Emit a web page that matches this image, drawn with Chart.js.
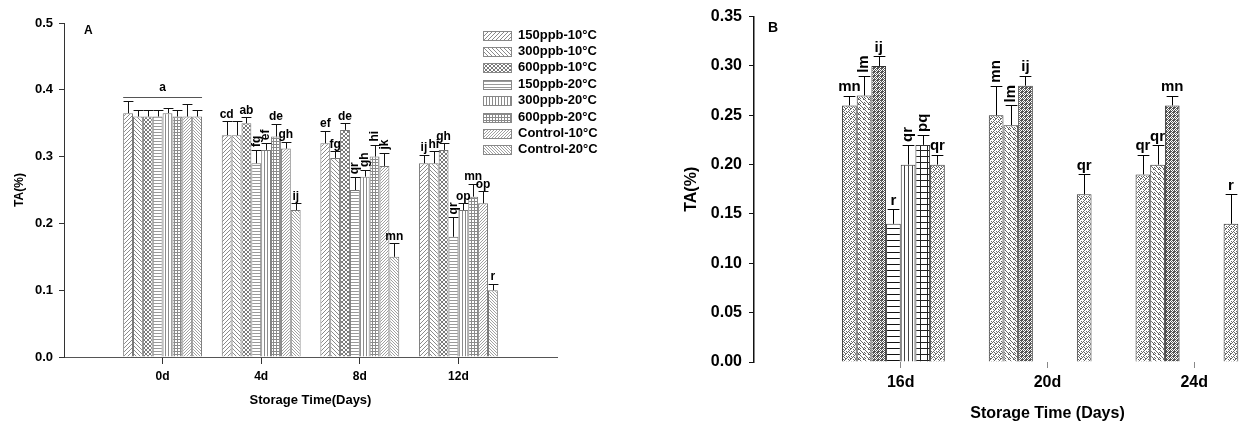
<!DOCTYPE html>
<html>
<head>
<meta charset="utf-8">
<script src="https://cdn.jsdelivr.net/npm/chart.js@4.4.1/dist/chart.umd.min.js"></script>
<style>
    html, body { margin: 0; padding: 0; background: #fff; overflow: hidden; }
    #wrap { position: relative; width: 1248px; height: 424px; overflow: hidden; }
    #chartA { position: absolute; left: 0; top: 0; }
    #chartB { position: absolute; left: 640px; top: 0; }
    .tag { position: absolute; font-family: "Liberation Sans", Arial, sans-serif; font-weight: bold; color: #000; }
</style>
</head>
<body>
<div id="wrap">
    <canvas id="chartA" width="620" height="424"></canvas>
    <canvas id="chartB" width="706" height="424"></canvas>
    <div class="tag" style="left:84px;top:23px;font-size:12px;">A</div>
    <div class="tag" style="left:768px;top:19px;font-size:14px;">B</div>
</div>
<script>
// --- dane ---
const seriesNames = ['150ppb-10°C', '300ppb-10°C', '600ppb-10°C', '150ppb-20°C',
                     '300ppb-20°C', '600ppb-20°C', 'Control-10°C', 'Control-20°C'];

// Panel A: 0d, 4d, 8d, 12d
const daysA = ['0d', '4d', '8d', '12d'];
const taA = [
    [0.365, 0.332, 0.320, 0.290],
    [0.360, 0.332, 0.298, 0.290],
    [0.360, 0.350, 0.340, 0.310],
    [0.360, 0.290, 0.250, 0.180],
    [0.365, 0.310, 0.270, 0.220],
    [0.360, 0.330, 0.300, 0.240],
    [0.360, 0.312, 0.286, 0.230],
    [0.360, 0.220, 0.150, 0.100]
];
const errA = [
    [0.018, 0.021, 0.019, 0.013],
    [0.010, 0.021, 0.010, 0.018],
    [0.010, 0.009, 0.010, 0.010],
    [0.010, 0.020, 0.019, 0.029],
    [0.008, 0.010, 0.010, 0.010],
    [0.010, 0.019, 0.018, 0.019],
    [0.019, 0.010, 0.020, 0.018],
    [0.010, 0.010, 0.020, 0.010]
];
const lettersA = [
    [null, 'cd', 'ef', 'ij'],
    [null, null, 'fg', 'hi'],
    [null, 'ab', 'de', 'gh'],
    [null, 'fg', 'qr', 'qr'],
    [null, 'ef', 'gh', 'op'],
    [null, 'de', 'hi', 'mn'],
    [null, 'gh', 'jk', 'op'],
    [null, 'ij', 'mn', 'r']
];
const groupLettersA = ['a', null, null, null];
const rotatedA = [[3, 1], [4, 1], [3, 2], [4, 2], [5, 2], [6, 2], [3, 3]];

// Panel B: 16d, 20d, 24d
const daysB = ['16d', '20d', '24d'];
const taB = [
    [0.26, 0.25, 0.19],
    [0.27, 0.24, 0.20],
    [0.30, 0.28, 0.26],
    [0.14, null, null],
    [0.20, null, null],
    [0.22, null, null],
    [0.20, 0.17, 0.14],
    [null, null, null]
];
const errB = [
    [0.01, 0.03, 0.02],
    [0.02, 0.02, 0.02],
    [0.01, 0.01, 0.01],
    [0.015, null, null],
    [0.02, null, null],
    [0.01, null, null],
    [0.01, 0.02, 0.03],
    [null, null, null]
];
const lettersB = [
    ['mn', 'mn', 'qr'],
    ['lm', 'lm', 'qr'],
    ['ij', 'ij', 'mn'],
    ['r', null, null],
    ['qr', null, null],
    ['pq', null, null],
    ['qr', 'qr', 'r'],
    [null, null, null]
];
const rotatedB = [[1, 0], [4, 0], [5, 0], [0, 1], [1, 1]];

const FONT = '"Liberation Sans", Arial, sans-serif';

// --- wzory kreskowania ---
function hatch(kind, w, h, color, extraDots) {
    const c = document.createElement('canvas');
    c.width = w; c.height = h;
    const g = c.getContext('2d');
    g.fillStyle = '#fff';
    g.fillRect(0, 0, w, h);
    g.strokeStyle = color;
    g.fillStyle = color;
    g.lineWidth = 1;
    g.beginPath();
    if (kind === 'fwd' || kind === 'cross') {
        for (const k of [-w, 0, w]) { g.moveTo(k, h); g.lineTo(k + w, 0); }
    }
    if (kind === 'back' || kind === 'cross') {
        for (const k of [-w, 0, w]) { g.moveTo(k, 0); g.lineTo(k + w, h); }
    }
    g.stroke();
    if (kind === 'horiz' || kind === 'grid') g.fillRect(0, 0, w, 1);
    if (kind === 'vert' || kind === 'grid') g.fillRect(0, 0, 1, h);
    if (kind === 'dots') {
        for (let y = 0; y < h; y++) {
            for (let x = (y % 2); x < w; x += 2) g.fillRect(x, y, 1, 1);
        }
    }
    if (extraDots) {
        extraDots.forEach(p => g.fillRect(p[0], p[1], 1, 1));
    }
    return g.createPattern(c, 'repeat');
}

const patternsA = [
    hatch('fwd', 4, 4, '#8a8a8a'),
    hatch('back', 4, 4, '#8a8a8a'),
    hatch('cross', 4, 4, '#7a7a7a'),
    hatch('horiz', 3, 3, '#9a9a9a'),
    hatch('vert', 3, 3, '#8a8a8a'),
    hatch('grid', 3, 3, '#8a8a8a'),
    hatch('fwd', 3, 3, '#a0a0a0'),
    hatch('back', 3, 3, '#a0a0a0')
];
const speckle = [[1, 1], [3, 4], [4, 2], [0, 3]];
const patternsB = [
    hatch('fwd', 5, 5, '#666', speckle),
    hatch('back', 5, 5, '#666', speckle),
    hatch('dots', 4, 4, '#555', [[1, 0], [2, 3]]),
    hatch('horiz', 6, 6, '#111'),
    hatch('vert', 4, 6, '#444'),
    hatch('grid', 7, 6, '#222'),
    hatch('fwd', 5, 5, '#666', speckle),
    hatch('back', 5, 5, '#666', speckle)
];

// --- wtyczki ---
function makeErrorBars(errors, capRatio, color) {
    return {
        id: 'errorBars',
        afterDatasetsDraw(chart) {
            const ctx = chart.ctx;
            const yScale = chart.scales.y;
            ctx.save();
            ctx.strokeStyle = color;
            ctx.lineWidth = 1;
            chart.data.datasets.forEach((ds, i) => {
                const meta = chart.getDatasetMeta(i);
                meta.data.forEach((bar, j) => {
                    const v = ds.data[j].y;
                    const e = errors[i][j];
                    if (v == null || !e) return;
                    const top = Math.round(yScale.getPixelForValue(v + e)) + 0.5;
                    const base = yScale.getPixelForValue(v);
                    const x = Math.round(bar.x) + 0.5;
                    const half = bar.width * capRatio / 2;
                    ctx.beginPath();
                    ctx.moveTo(x, base);
                    ctx.lineTo(x, top);
                    ctx.moveTo(x - half, top);
                    ctx.lineTo(x + half, top);
                    ctx.stroke();
                });
            });
            ctx.restore();
        }
    };
}

function makeLetters(letters, errors, rotated, groups, font) {
    return {
        id: 'letters',
        afterDatasetsDraw(chart) {
            const ctx = chart.ctx;
            const yScale = chart.scales.y;
            const topOf = (i, j) => yScale.getPixelForValue(chart.data.datasets[i].data[j].y + (errors[i][j] || 0));
            ctx.save();
            ctx.fillStyle = '#000';
            ctx.font = font;
            letters.forEach((row, i) => {
                const meta = chart.getDatasetMeta(i);
                row.forEach((txt, j) => {
                    if (!txt) return;
                    const bar = meta.data[j];
                    const top = topOf(i, j);
                    const vertical = rotated.some(p => p[0] === i && p[1] === j);
                    if (vertical) {
                        ctx.save();
                        ctx.translate(bar.x, top - 3);
                        ctx.rotate(-Math.PI / 2);
                        ctx.textAlign = 'left';
                        ctx.textBaseline = 'middle';
                        ctx.fillText(txt, 0, 0);
                        ctx.restore();
                    } else {
                        ctx.textAlign = 'center';
                        ctx.textBaseline = 'bottom';
                        ctx.fillText(txt, bar.x, top - 1);
                    }
                });
            });
            // litera wspólna dla całej grupy
            groups.forEach((txt, j) => {
                if (!txt) return;
                let left = Infinity, right = -Infinity, top = Infinity;
                chart.data.datasets.forEach((ds, i) => {
                    const bar = chart.getDatasetMeta(i).data[j];
                    left = Math.min(left, bar.x - bar.width / 2);
                    right = Math.max(right, bar.x + bar.width / 2);
                    top = Math.min(top, topOf(i, j));
                });
                const ly = Math.round(top - 4) + 0.5;
                ctx.strokeStyle = '#555';
                ctx.lineWidth = 1;
                ctx.beginPath();
                ctx.moveTo(left, ly);
                ctx.lineTo(right, ly);
                ctx.stroke();
                ctx.textAlign = 'center';
                ctx.textBaseline = 'bottom';
                ctx.fillText(txt, (left + right) / 2, ly - 4);
            });
            ctx.restore();
        }
    };
}

function makeBoxLegend(x, y, w, h, step, textX, font) {
    return {
        id: 'boxLegend',
        afterDraw(chart) {
            const ctx = chart.ctx;
            ctx.save();
            chart.data.datasets.forEach((ds, i) => {
                const cy = y + i * step;
                const top = Math.round(cy - h / 2);
                ctx.fillStyle = ds.backgroundColor;
                ctx.fillRect(x, top, w, h);
                ctx.strokeStyle = '#888';
                ctx.lineWidth = 1;
                ctx.strokeRect(x + 0.5, top + 0.5, w, h);
                ctx.fillStyle = '#000';
                ctx.font = font;
                ctx.textAlign = 'left';
                ctx.textBaseline = 'middle';
                ctx.fillText(ds.label, textX, cy);
            });
            ctx.restore();
        }
    };
}

function buildDatasets(values, patterns, border) {
    return seriesNames.map((name, i) => ({
        label: name,
        data: values[i].map((v, j) => ({ x: j + 1, y: v })),
        backgroundColor: patterns[i],
        borderColor: border,
        borderWidth: 1,
        categoryPercentage: 0.8,
        barPercentage: 1.0
    }));
}

// kreski tylko pod nazwanymi dniami
const tickShown = (days, color) => c =>
    (c.tick && c.tick.value >= 1 && c.tick.value <= days.length) ? color : 'rgba(0,0,0,0)';

// --- Panel A ---
new Chart(document.getElementById('chartA'), {
    type: 'bar',
    data: { datasets: buildDatasets(taA, patternsA, '#777') },
    options: {
        responsive: false,
        animation: false,
        devicePixelRatio: 1,
        layout: { padding: { left: 0, right: 63, top: 23, bottom: 0 } },
        plugins: { legend: { display: false }, tooltip: { enabled: false } },
        scales: {
            x: {
                type: 'linear', min: 0, max: 5, offset: false,
                grid: { offset: false, drawOnChartArea: false, tickLength: 7, tickColor: tickShown(daysA, '#333') },
                border: { color: '#555', width: 1 },
                ticks: {
                    stepSize: 1, includeBounds: false, autoSkip: false, maxRotation: 0, padding: 5,
                    color: '#000', font: { family: FONT, size: 12, weight: 'bold' },
                    callback: v => daysA[v - 1] || ''
                },
                title: {
                    display: true, text: 'Storage Time(Days)', color: '#000',
                    font: { family: FONT, size: 13, weight: 'bold' }, padding: { top: 0, bottom: 16 }
                },
                afterFit: s => { s.height = 67; }
            },
            y: {
                min: 0, max: 0.5,
                grid: { drawOnChartArea: false, tickLength: 5, tickColor: '#333' },
                border: { color: '#333', width: 1 },
                ticks: {
                    stepSize: 0.1, padding: 6, color: '#000',
                    font: { family: FONT, size: 13, weight: 'bold' },
                    callback: v => v.toFixed(1)
                },
                title: {
                    display: true, text: 'TA(%)', color: '#000',
                    font: { family: FONT, size: 12, weight: 'bold' }, padding: { top: 12, bottom: 0 }
                },
                afterFit: s => { s.width = 64; }
            }
        }
    },
    plugins: [
        makeErrorBars(errA, 1.0, '#111'),
        makeLetters(lettersA, errA, rotatedA, groupLettersA, 'bold 12px ' + FONT),
        makeBoxLegend(483, 35, 28, 9, 16.4, 518, 'bold 13px ' + FONT)
    ]
});

// --- Panel B ---
new Chart(document.getElementById('chartB'), {
    type: 'bar',
    data: { datasets: buildDatasets(taB, patternsB, '#333') },
    options: {
        responsive: false,
        animation: false,
        devicePixelRatio: 1,
        layout: { padding: { left: 0, right: 2, top: 16, bottom: 0 } },
        plugins: { legend: { display: false }, tooltip: { enabled: false } },
        scales: {
            x: {
                type: 'linear', min: 0, max: 4, offset: false,
                grid: { offset: false, drawOnChartArea: false, tickLength: 6, tickColor: tickShown(daysB, '#888') },
                border: { display: false },
                ticks: {
                    stepSize: 1, includeBounds: false, autoSkip: false, maxRotation: 0, padding: 5,
                    color: '#000', font: { family: FONT, size: 16, weight: 'bold' },
                    callback: v => daysB[v - 1] || ''
                },
                title: {
                    display: true, text: 'Storage Time (Days)', color: '#000',
                    font: { family: FONT, size: 16, weight: 'bold' }, padding: { top: 0, bottom: 1 }
                },
                afterFit: s => { s.height = 62; }
            },
            y: {
                min: 0, max: 0.35,
                grid: { drawOnChartArea: false, tickLength: 5, tickColor: '#111' },
                border: { color: '#111', width: 1.5 },
                ticks: {
                    stepSize: 0.05, padding: 7, color: '#000',
                    font: { family: FONT, size: 16, weight: 'bold' },
                    callback: v => v.toFixed(2)
                },
                title: {
                    display: true, text: 'TA(%)', color: '#000',
                    font: { family: FONT, size: 16, weight: 'bold' }, padding: { top: 42, bottom: 0 }
                },
                afterFit: s => { s.width = 114; }
            }
        }
    },
    plugins: [
        makeErrorBars(errB, 0.8, '#000'),
        makeLetters(lettersB, errB, rotatedB, [], 'bold 15px ' + FONT)
    ]
});
</script>
</body>
</html>
